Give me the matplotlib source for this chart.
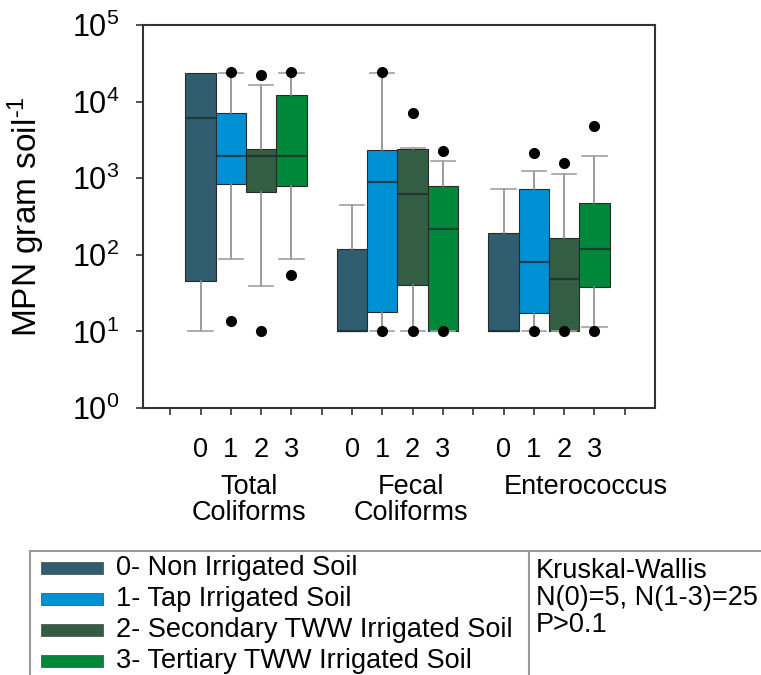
#!/usr/bin/env python3
"""plot.py: MPN box plots for soil bacteria by irrigation type"""

import matplotlib

matplotlib.use("Agg")
import matplotlib.pyplot as plt
import matplotlib.transforms as mtrans
from matplotlib.patches import Rectangle
from matplotlib.lines import Line2D

plt.rcParams["font.family"] = ["Liberation Sans", "DejaVu Sans"]
plt.rcParams["mathtext.fontset"] = "custom"
plt.rcParams["mathtext.rm"] = "Liberation Sans"
plt.rcParams["mathtext.it"] = "Liberation Sans:italic"

W, H, DPI = 761, 675, 100

# groups and treatments
groups = ["Total\nColiforms", "Fecal\nColiforms", "Enterococcus"]
treatments = ["0", "1", "2", "3"]
legend_labels = [
    "0- Non Irrigated Soil",
    "1- Tap Irrigated Soil",
    "2- Secondary TWW Irrigated Soil",
    "3- Tertiary TWW Irrigated Soil",
]
colors = ["#2f5e70", "#0091d5", "#335e43", "#00883a"]

# box statistics (MPN gram soil^-1), rows = groups, cols = treatments
q1 = [
    [45, 850, 670, 790],
    [10, 18, 40, 10],
    [10, 17.5, 10, 38],
]
med = [
    [6200, 1950, 1970, 1950],
    [10, 900, 620, 220],
    [10, 80, 48, 118],
]
q3 = [
    [23500, 7000, 2400, 12200],
    [120, 2300, 2400, 790],
    [190, 720, 168, 480],
]
whis_lo = [
    [10, 88, 39, 88],
    [10, 10, 10, 10],
    [10, 10, 10, 11.5],
]
whis_hi = [
    [23500, 23500, 16500, 23500],
    [445, 23500, 2450, 1700],
    [725, 1250, 1150, 1920],
]
fliers = [
    [[], [13.5, 24000], [10, 22000], [54, 24000]],
    [[], [10, 24000], [10, 7000], [10, 2250]],
    [[], [10, 2150], [10, 1600], [10, 4800]],
]

stats_note = "Kruskal-Wallis\nN(0)=5, N(1-3)=25\nP>0.1"

fig = plt.figure(figsize=(W / DPI, H / DPI), dpi=DPI)
ax = fig.add_axes([143 / W, 1 - 408 / H, (655 - 143) / W, (408 - 25) / H])

positions = []
for g in range(len(groups)):
    for k in range(len(treatments)):
        pos = g * 5 + 2 + k
        positions.append(pos)
        st = {
            "med": med[g][k],
            "q1": q1[g][k],
            "q3": q3[g][k],
            "whislo": whis_lo[g][k],
            "whishi": whis_hi[g][k],
            "fliers": fliers[g][k],
        }
        art = ax.bxp(
            [st],
            positions=[pos],
            widths=1.0,
            capwidths=0.8,
            patch_artist=True,
            manage_ticks=False,
            boxprops=dict(facecolor=colors[k], edgecolor="#2a2a2a", linewidth=0.8),
            medianprops=dict(color="#1e2e2e", linewidth=1.6, alpha=0.8),
            whiskerprops=dict(color="#8a8a8a", linewidth=1.2),
            capprops=dict(color="#a0a0a0", linewidth=1.2),
            flierprops=dict(
                marker="o", markerfacecolor="black", markeredgecolor="black",
                markersize=7,
            ),
        )
        # no cap where the whisker ends on the box edge (and no outlier there)
        if st["whislo"] == st["q1"] and not st["fliers"]:
            art["caps"][0].set_visible(False)
        if st["whishi"] == st["q3"]:
            art["caps"][1].set_visible(False)

ax.set_yscale("log")
ax.set_ylim(1, 1e5)
ax.set_xlim(0.1, 17.0)
ax.minorticks_off()
ax.set_yticks([1, 10, 100, 1e3, 1e4, 1e5])
ax.tick_params(axis="y", direction="out", length=5, width=1.2, labelsize=22, pad=12,
               colors="#333333", labelcolor="black")

# all small ticks along the bottom, digits only under the boxes
ax.set_xticks(positions)
ax.set_xticklabels(treatments * len(groups))
ax.set_xticks([p for p in range(1, 17) if p not in positions], minor=True)
ax.tick_params(axis="x", which="both", direction="out", length=5, width=1.2,
               colors="#333333", labelcolor="black")
ax.tick_params(axis="x", which="major", labelsize=19.5, pad=16)

for sp in ax.spines.values():
    sp.set_color("#333333")
    sp.set_linewidth(1.5)

ax.set_ylabel(r"MPN gram soil$^{\text{-1}}$", fontsize=24)
ax.yaxis.set_label_coords(-0.188, 0.5)

# group names below the digits
group_x = [3.6, 8.95, 14.7]
lab_tr = mtrans.blended_transform_factory(ax.transData, fig.transFigure)
for gx, name in zip(group_x, groups):
    ax.text(gx, 1 - 474 / H, name, transform=lab_tr,
            ha="center", va="top", fontsize=19.5, linespacing=1.0)

# legend box at the bottom
fig.add_artist(Rectangle((30 / W, -0.05), 1.0, (1 - 551 / H) + 0.05,
                         transform=fig.transFigure, facecolor="white",
                         edgecolor="#9a9a9a", linewidth=1.5))
fig.add_artist(Line2D([529 / W, 529 / W], [0, 1 - 551 / H],
                      transform=fig.transFigure, color="#9a9a9a", linewidth=1.5))
row_y = [568, 599, 630, 661]
for ry, lab, c in zip(row_y, legend_labels, colors):
    fig.add_artist(Rectangle((41 / W, 1 - (ry + 6) / H), 62 / W, 12 / H,
                             transform=fig.transFigure, facecolor=c,
                             edgecolor="#555555", linewidth=0.6))
    fig.text(116 / W, 1 - ry / H, lab, fontsize=19.5, va="center", ha="left")

fig.text(536 / W, 1 - 558 / H, stats_note, fontsize=19.5, va="top", ha="left",
         linespacing=1.05)

fig.savefig("out.png", dpi=DPI)
